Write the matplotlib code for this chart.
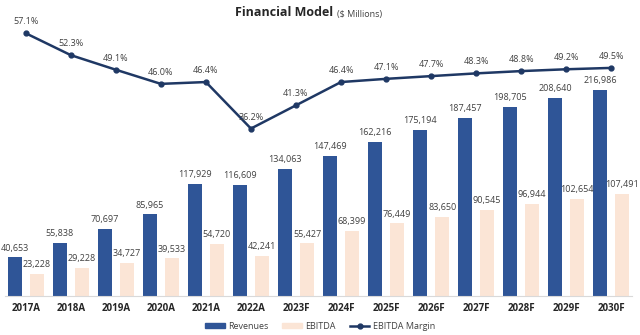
import numpy as np
import matplotlib
matplotlib.use("Agg")
from matplotlib import pyplot as plt
from matplotlib.patches import Patch
from matplotlib.lines import Line2D

years = ["2017A", "2018A", "2019A", "2020A", "2021A", "2022A", "2023F",
         "2024F", "2025F", "2026F", "2027F", "2028F", "2029F", "2030F"]
revenues = [40653, 55838, 70697, 85965, 117929, 116609, 134063,
            147469, 162216, 175194, 187457, 198705, 208640, 216986]
ebitda = [23228, 29228, 34727, 39533, 54720, 42241, 55427,
          68399, 76449, 83650, 90545, 96944, 102654, 107491]
margin = [57.1, 52.3, 49.1, 46.0, 46.4, 36.2, 41.3,
          46.4, 47.1, 47.7, 48.3, 48.8, 49.2, 49.5]

blue = "#2F5597"
peach = "#FBE5D6"
navy = "#1F3864"
txt = "#404040"

plt.rcParams['font.family'] = ['Open Sans', 'DejaVu Sans']

fig = plt.figure(figsize=(6.4, 3.35), dpi=100)
ax = fig.add_axes([5/640, 39/335, 627/640, 276/335])
ax2 = ax.twinx()

x = np.arange(len(years))
w = 0.31
off = 0.245
ax.bar(x - off, revenues, w, color=blue, zorder=2)
ax.bar(x + off, ebitda, w, color=peach, zorder=2)

for i in range(len(years)):
    ax.annotate(f"{revenues[i]:,}", (x[i] - off, revenues[i]), xytext=(0, 3.5),
                textcoords="offset points", ha="center", va="bottom",
                fontsize=6.5, color=txt)
    ax.annotate(f"{ebitda[i]:,}", (x[i] + off, ebitda[i]), xytext=(0, 3.5),
                textcoords="offset points", ha="center", va="bottom",
                fontsize=6.5, color=txt)

m = np.array(margin) / 100
ax2.plot(x, m, color=navy, lw=1.8, marker="o", ms=3.5, zorder=3)
for i in range(len(years)):
    ax2.annotate(f"{margin[i]:.1f}%", (x[i], m[i]), xytext=(0, 5),
                 textcoords="offset points", ha="center", va="bottom",
                 fontsize=6.5, color=txt)

ax.set_xlim(-0.46, 13.46)
ax.set_ylim(0, 290700)
ax2.set_ylim(-0.005, 0.60)

for a in (ax, ax2):
    for s in ["top", "right", "left"]:
        a.spines[s].set_visible(False)
    a.set_yticks([])
ax2.spines["bottom"].set_visible(False)
ax.spines["bottom"].set_color("#D9D9D9")
ax.set_xticks(x)
ax.set_xticklabels(years, fontweight="bold", fontsize=7, color="#262626")
ax.tick_params(axis="x", length=0, pad=5)

fig.text(333/640, 0.962, "Financial Model", ha="right", va="center",
         fontsize=9, fontweight="bold", color="#262626")
fig.text(337/640, 0.958, "($ Millions)", ha="left", va="center",
         fontsize=6.5, color=txt)

handles = [Patch(color=blue), Patch(color=peach),
           Line2D([], [], color=navy, lw=1.8, marker="o", ms=3.5)]
fig.legend(handles, ["Revenues", "EBITDA", "EBITDA Margin"], loc="center",
           bbox_to_anchor=(0.5, 0.025), ncol=3, frameon=False, fontsize=6.5,
           labelcolor=txt, handlelength=2.2, handleheight=0.5,
           columnspacing=1.5, handletextpad=0.4)

fig.savefig("out.png", dpi=100)
